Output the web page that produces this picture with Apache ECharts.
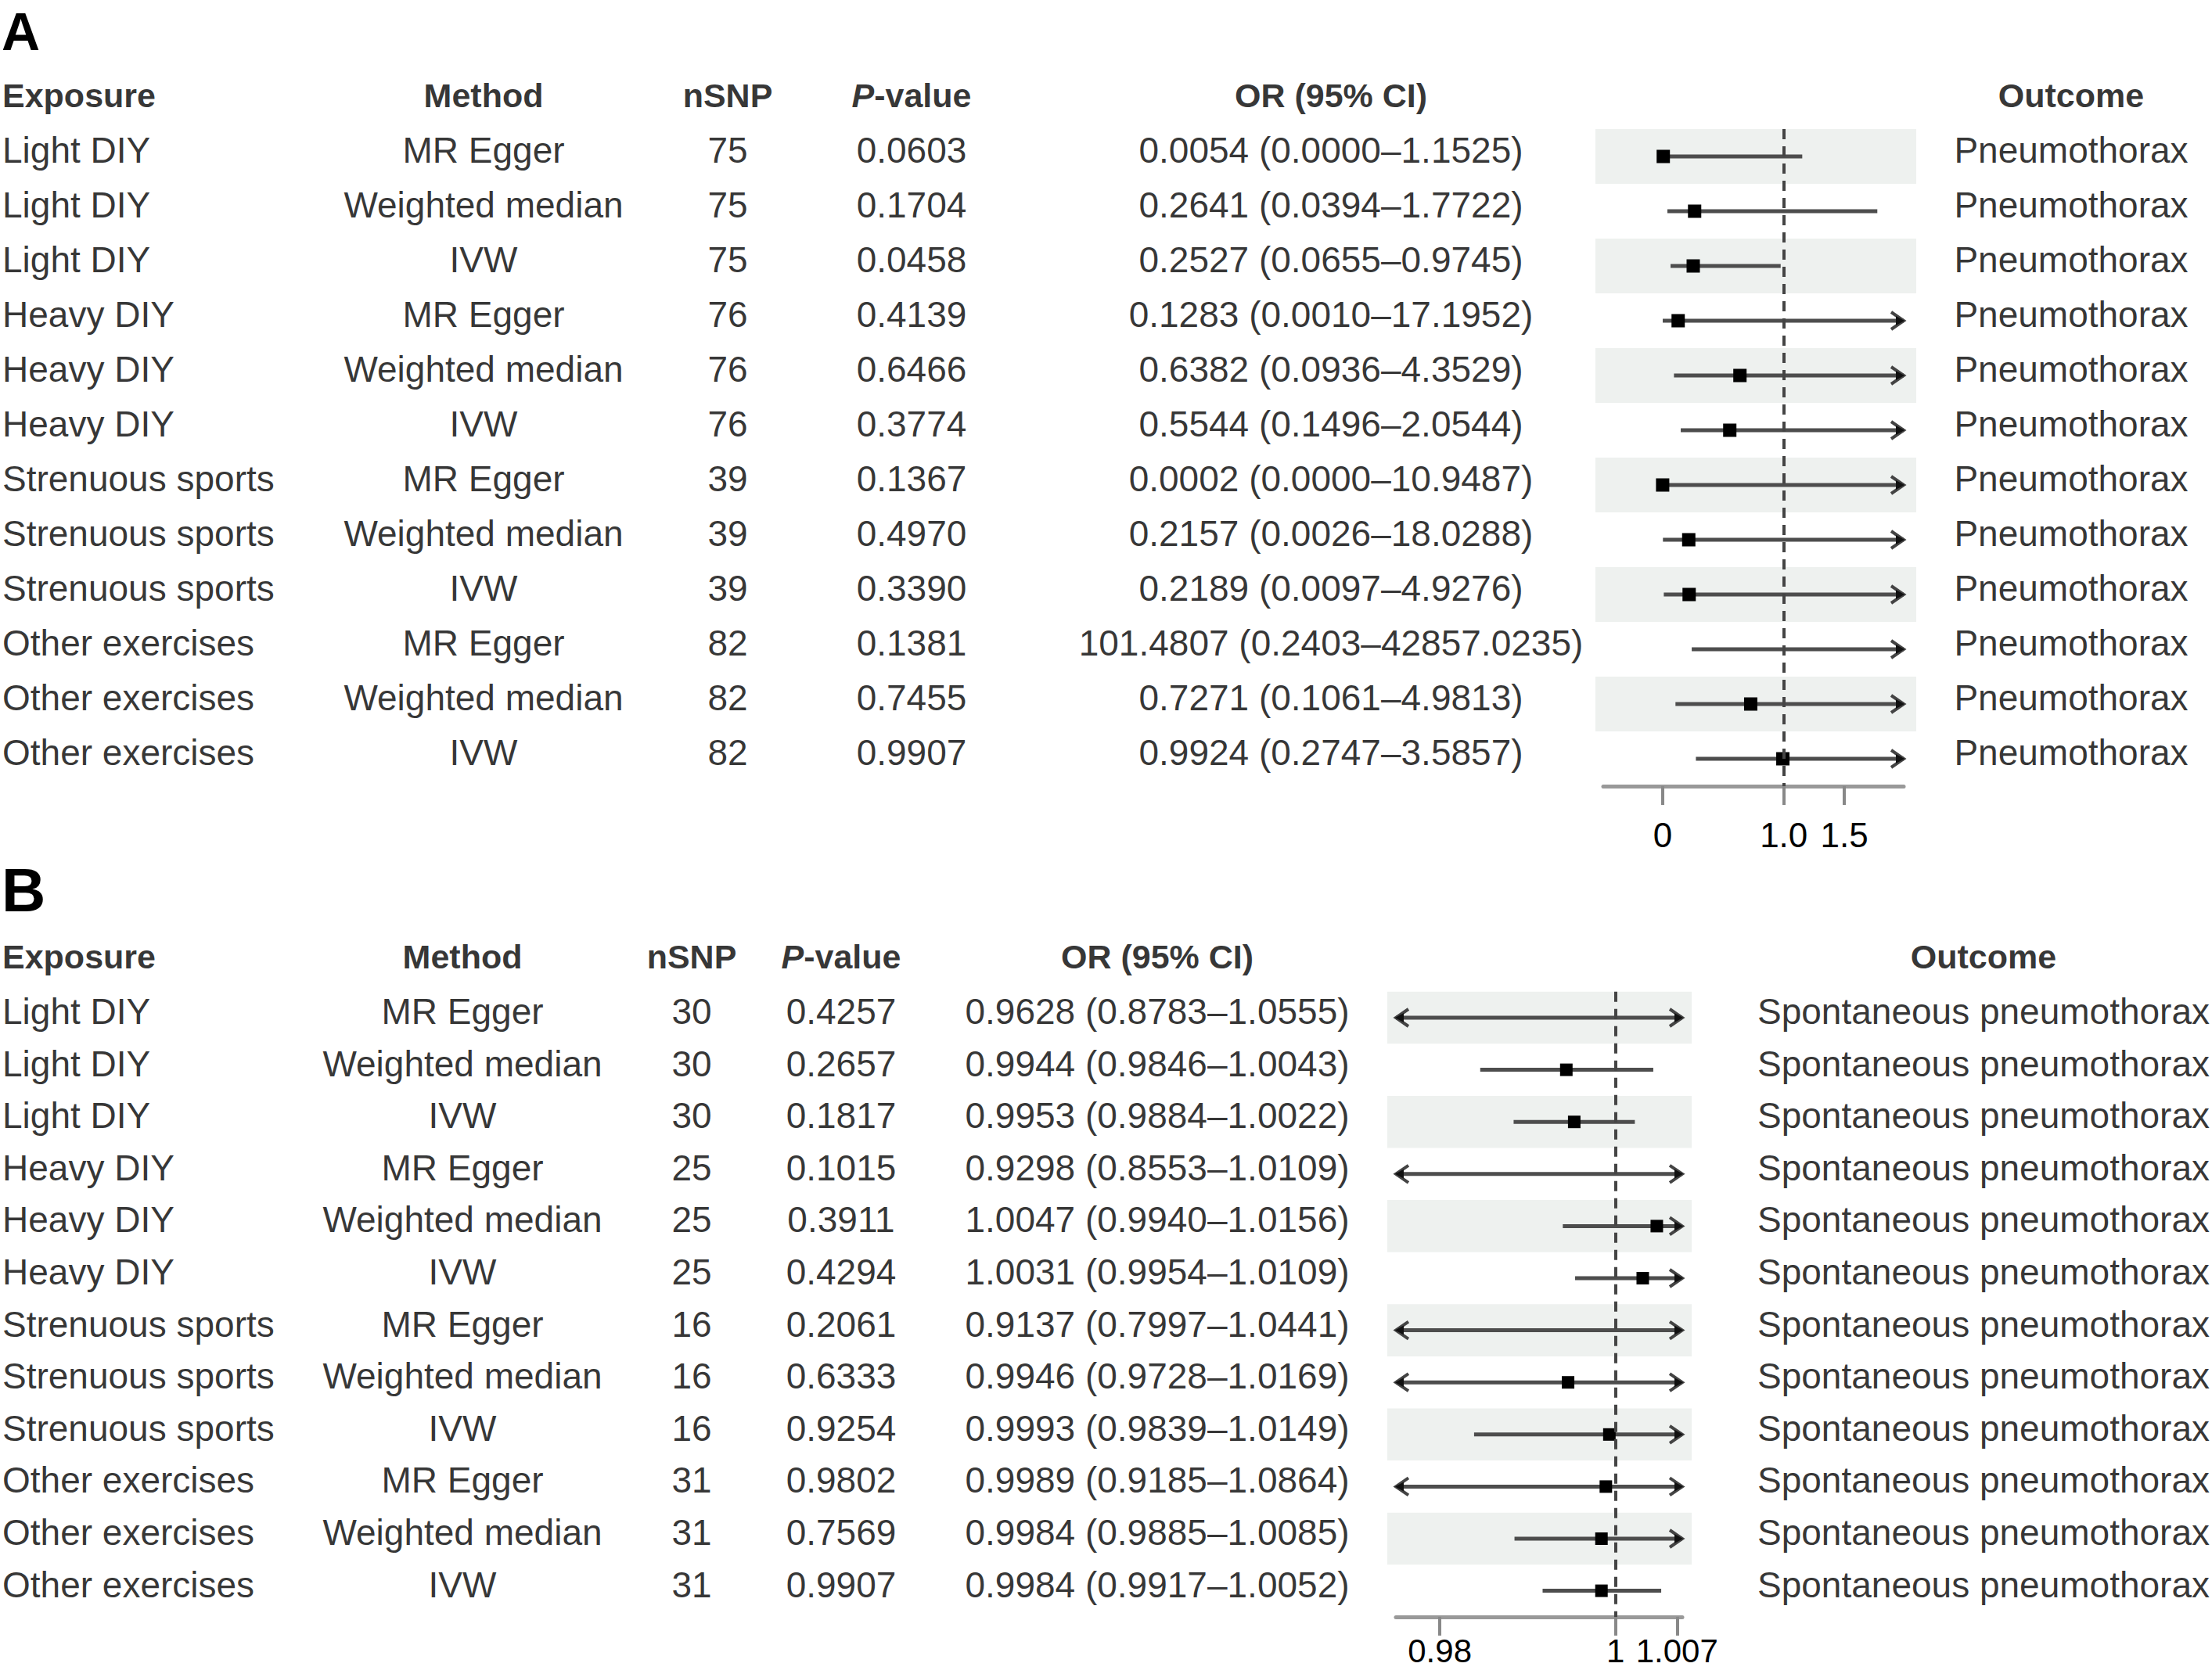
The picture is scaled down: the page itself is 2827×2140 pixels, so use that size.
<!DOCTYPE html>
<html>
<head>
<meta charset="utf-8">
<script src="https://cdn.jsdelivr.net/npm/echarts@6/dist/echarts.min.js"></script>
<style>
html, body { margin: 0; padding: 0; background: #fff; }
#chart { width: 2827px; height: 2140px; }
</style>
</head>
<body>
<div id="chart"></div>
<script>
// ---- panel A: pneumothorax ----
const exposureA = ['Light DIY', 'Light DIY', 'Light DIY', 'Heavy DIY', 'Heavy DIY', 'Heavy DIY',
    'Strenuous sports', 'Strenuous sports', 'Strenuous sports', 'Other exercises', 'Other exercises', 'Other exercises'];
const methodA = ['MR Egger', 'Weighted median', 'IVW', 'MR Egger', 'Weighted median', 'IVW',
    'MR Egger', 'Weighted median', 'IVW', 'MR Egger', 'Weighted median', 'IVW'];
const nsnpA = [75, 75, 75, 76, 76, 76, 39, 39, 39, 82, 82, 82];
const pA = [0.0603, 0.1704, 0.0458, 0.4139, 0.6466, 0.3774, 0.1367, 0.4970, 0.3390, 0.1381, 0.7455, 0.9907];
const orA = [0.0054, 0.2641, 0.2527, 0.1283, 0.6382, 0.5544, 0.0002, 0.2157, 0.2189, 101.4807, 0.7271, 0.9924];
const loA = [0.0000, 0.0394, 0.0655, 0.0010, 0.0936, 0.1496, 0.0000, 0.0026, 0.0097, 0.2403, 0.1061, 0.2747];
const hiA = [1.1525, 1.7722, 0.9745, 17.1952, 4.3529, 2.0544, 10.9487, 18.0288, 4.9276, 42857.0235, 4.9813, 3.5857];
const outcomeA = 'Pneumothorax';
const ticksA = [0, 1, 1.5];

// ---- panel B: spontaneous pneumothorax ----
const exposureB = exposureA.slice();
const methodB = methodA.slice();
const nsnpB = [30, 30, 30, 25, 25, 25, 16, 16, 16, 31, 31, 31];
const pB = [0.4257, 0.2657, 0.1817, 0.1015, 0.3911, 0.4294, 0.2061, 0.6333, 0.9254, 0.9802, 0.7569, 0.9907];
const orB = [0.9628, 0.9944, 0.9953, 0.9298, 1.0047, 1.0031, 0.9137, 0.9946, 0.9993, 0.9989, 0.9984, 0.9984];
const loB = [0.8783, 0.9846, 0.9884, 0.8553, 0.9940, 0.9954, 0.7997, 0.9728, 0.9839, 0.9185, 0.9885, 0.9917];
const hiB = [1.0555, 1.0043, 1.0022, 1.0109, 1.0156, 1.0109, 1.0441, 1.0169, 1.0149, 1.0864, 1.0085, 1.0052];
const outcomeB = 'Spontaneous pneumothorax';
const ticksB = [0.98, 1, 1.007];

const headers = ['Exposure', 'Method', 'nSNP', '{i|P}-value', 'OR (95% CI)', 'Outcome'];

const W = 2827;
const FONT = 'Liberation Sans';
const dom = document.getElementById('chart');
const chart = echarts.init(dom, null, { renderer: 'svg' });

const fmt4 = v => v.toFixed(4);

function arrow(x, y, d) {
    return [{
        type: 'polyline',
        shape: { points: [[x - d * 16, y - 11], [x, y], [x - d * 16, y + 11]] },
        style: { stroke: '#444', lineWidth: 4, fill: null }
    }, {
        type: 'polygon',
        shape: { points: [[x - d * 10, y - 6], [x + d * 1, y], [x - d * 10, y + 6]] },
        style: { fill: '#111' }
    }];
}

function buildPanel(k, d, L) {
    const base = k * 3;
    const n = d.exposure.length;
    const pxPer = (L.axis[1] - L.axis[0]) / (L.range[1] - L.range[0]);
    const plotMin = L.range[0] - (L.axis[0] - L.band[0]) / pxPer;
    const plotMax = L.range[1] + (L.band[1] - L.axis[1]) / pxPer;
    const plotTop = L.rowTop - L.rowH / 2;
    const plotH = n * L.rowH;

    const grids = [
        { left: 0, width: W, top: L.rowTop - 1.5 * L.rowH, height: (n + 1) * L.rowH },
        { left: L.band[0], width: L.band[1] - L.band[0], top: plotTop, height: plotH },
        { left: L.axis[0], width: L.axis[1] - L.axis[0], top: plotTop + plotH - 1, height: 1 }
    ];
    const xAxes = [
        { gridIndex: base, type: 'value', min: 0, max: W, show: false },
        { gridIndex: base + 1, type: 'value', min: plotMin, max: plotMax, show: false },
        {
            gridIndex: base + 2, type: 'value', min: L.range[0], max: L.range[1], position: 'bottom',
            axisLine: { onZero: false, lineStyle: { color: '#999', width: 5 } },
            axisTick: { customValues: d.ticks, length: 24, lineStyle: { color: '#888', width: 4 } },
            axisLabel: {
                customValues: d.ticks, formatter: L.tickFmt, margin: L.labelMargin, lineHeight: 32,
                fontSize: L.tickSize, fontFamily: FONT, color: '#000'
            },
            splitLine: { show: false }
        }
    ];
    const yAxes = [
        { gridIndex: base, type: 'value', inverse: true, min: -1.5, max: n - 0.5, show: false },
        { gridIndex: base + 1, type: 'value', inverse: true, min: -0.5, max: n - 0.5, show: false },
        { gridIndex: base + 2, type: 'value', min: 0, max: 1, show: false }
    ];

    const textStyle = { fontSize: 46, fontFamily: FONT, color: '#000' };
    const columns = [
        { vals: d.exposure, align: 'left' },
        { vals: d.method, align: 'center' },
        { vals: d.nsnp.map(String), align: 'center' },
        { vals: d.p.map(fmt4), align: 'center' },
        { vals: d.or.map((v, i) => fmt4(v) + ' (' + fmt4(d.lo[i]) + '–' + fmt4(d.hi[i]) + ')'), align: 'center' },
        { vals: d.exposure.map(() => d.outcome), align: 'center' }
    ];

    const series = [];
    columns.forEach((col, c) => {
        const x = L.cols[c];
        const data = [{ name: headers[c], value: [x, L.headerRow], head: true }]
            .concat(col.vals.map((t, i) => ({ name: t, value: [x, i] })));
        series.push({
            type: 'scatter', xAxisIndex: base, yAxisIndex: base,
            symbol: 'circle', symbolSize: 0, silent: true, clip: false, animation: false,
            data: data.map(it => ({
                name: it.name, value: it.value,
                label: it.head ? {
                    fontWeight: 'bold', fontSize: 43,
                    rich: { i: { fontStyle: 'italic', fontWeight: 'bold', fontSize: 43, fontFamily: FONT, color: '#000' } }
                } : {}
            })),
            label: Object.assign({
                show: true, position: 'inside', align: col.align, verticalAlign: 'middle',
                offset: [0, -8], formatter: p => p.name
            }, textStyle)
        });
    });

    const bands = [];
    for (let i = 0; i < n; i += 2) bands.push([{ yAxis: i - 0.5 }, { yAxis: i + 0.5 }]);

    series.push({
        type: 'custom', xAxisIndex: base + 1, yAxisIndex: base + 1, silent: true, animation: false,
        encode: { x: 1, y: 0 },
        data: d.or.map((v, i) => [i, v, d.lo[i], d.hi[i]]),
        renderItem: function (params, api) {
            const row = api.value(0), or = api.value(1), lo = api.value(2), hi = api.value(3);
            const a = Math.max(lo, L.range[0]), b = Math.min(hi, L.range[1]);
            const p1 = api.coord([a, row]), p2 = api.coord([b, row]);
            let children = [{
                type: 'line',
                shape: { x1: p1[0], y1: p1[1], x2: p2[0], y2: p2[1] },
                style: { stroke: '#4d4d4d', lineWidth: 5 }
            }];
            if (hi > L.range[1]) children = children.concat(arrow(p2[0], p2[1], 1));
            if (lo < L.range[0]) children = children.concat(arrow(p1[0], p1[1], -1));
            if (or >= L.range[0] && or <= L.range[1]) {
                const c = api.coord([or, row]);
                children.push({
                    type: 'rect',
                    shape: { x: c[0] - L.sq / 2, y: c[1] - L.sq / 2, width: L.sq, height: L.sq },
                    style: { fill: '#000' }
                });
            }
            return { type: 'group', children: children };
        },
        markArea: {
            silent: true,
            itemStyle: { color: '#eef1ef' },
            data: bands
        },
        markLine: {
            silent: true, symbol: ['none', 'none'],
            label: { show: false },
            lineStyle: { type: [13, 9], color: '#444', width: 4 },
            data: [{ xAxis: 1 }]
        }
    });

    return { grids, xAxes, yAxes, series };
}

const panelA = buildPanel(0, {
    exposure: exposureA, method: methodA, nsnp: nsnpA, p: pA, or: orA, lo: loA, hi: hiA,
    outcome: outcomeA, ticks: ticksA
}, {
    rowTop: 200, rowH: 70, headerRow: -1,
    cols: [3, 618, 930, 1165, 1701, 2647],
    band: [2039, 2449], axis: [2049, 2433], range: [-0.49, 1.99],
    sq: 17, labelMargin: 46, tickSize: 44,
    tickFmt: v => (v === 0 ? '0' : v.toFixed(1))
});

const panelB = buildPanel(1, {
    exposure: exposureB, method: methodB, nsnp: nsnpB, p: pB, or: orB, lo: loB, hi: hiB,
    outcome: outcomeB, ticks: ticksB
}, {
    rowTop: 1301, rowH: 66.6, headerRow: -1.05,
    cols: [3, 591, 884, 1075, 1479, 2535],
    band: [1773, 2162], axis: [1784, 2150], range: [0.975, 1.0076],
    sq: 16, labelMargin: 28, tickSize: 42,
    tickFmt: v => String(v)
});

const option = {
    animation: false,
    backgroundColor: '#fff',
    title: [
        { text: 'A', left: 2, top: 6, padding: 0, textStyle: { fontSize: 68, fontWeight: 'bold', fontFamily: FONT, color: '#000' } },
        { text: 'B', left: 2, top: 1099, padding: 0, textStyle: { fontSize: 78, fontWeight: 'bold', fontFamily: FONT, color: '#000' } }
    ],
    grid: panelA.grids.concat(panelB.grids),
    xAxis: panelA.xAxes.concat(panelB.xAxes),
    yAxis: panelA.yAxes.concat(panelB.yAxes),
    series: panelA.series.concat(panelB.series)
};

chart.setOption(option);
</script>
</body>
</html>
